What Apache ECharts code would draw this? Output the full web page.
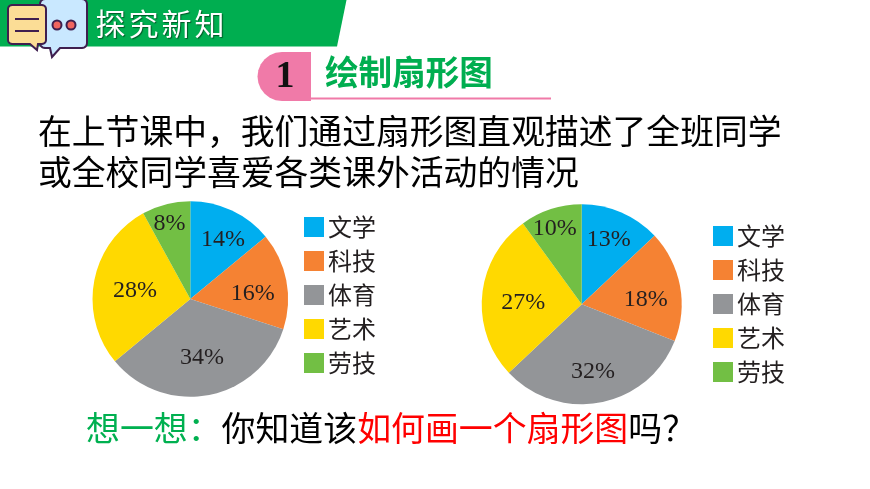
<!DOCTYPE html>
<html><head><meta charset="utf-8">
<style>html,body{margin:0;padding:0;background:#fff}#c{width:870px;height:489px}</style>
<script src="https://cdn.jsdelivr.net/npm/echarts@6/dist/echarts.min.js"></script>
</head><body><div id="c"></div>
<script>
const categories = ['文学','科技','体育','艺术','劳技'];
const classValues = [14,16,34,28,8];
const schoolValues = [13,18,32,27,10];
const colors = ['#00AEEF','#F58233','#939598','#FFD900','#72BF44'];
const classLabelNudge = [[10.7,-12.4],[11.5,4],[1.9,7.7],[-4.2,1],[-8,-25]];
const schoolLabelNudge = [[6,-16],[12,5],[1.3,15.6],[-5.6,3.7],[-10.5,-25.4]];
const headerTitle = ['探','究','新','知'];
const sectionNumber = '1';
const sectionTitle = '绘制扇形图';
const bodyLines = ['在上节课中，我们通过扇形图直观描述了全班同学','或全校同学喜爱各类课外活动的情况'];
const promptGreen = '想一想：';
const promptBlack1 = '你知道该';
const promptRed = '如何画一个扇形图';
const promptBlack2 = '吗？';

const cjk = '"Noto Sans CJK SC","Noto Sans",sans-serif';
const dark = '#3F1F4F';

function pie(values, center, radius, nudge){
  return {
    type:'pie', center, radius, startAngle:90, clockwise:true, silent:true,
    data: categories.map((name,i)=>({name,value:values[i],itemStyle:{color:colors[i]}})),
    itemStyle:{borderWidth:0},
    label:{show:true,position:'inside',formatter:p=>p.value+'%',fontFamily:'"Liberation Serif",serif',fontSize:24,color:'#231F20'},
    labelLine:{show:false},
    labelLayout:p=>({dx:nudge[p.dataIndex][0],dy:nudge[p.dataIndex][1]})
  };
}
function legend(left,top,seriesIndex){
  return {
    orient:'vertical',left,top,seriesIndex,icon:'rect',itemWidth:20,itemHeight:20,itemGap:10,padding:0,
    selectedMode:false,data:categories,
    textStyle:{fontFamily:cjk,fontSize:24,color:'#231F20',padding:[0,0,0,-1]}
  };
}
function arc(cx,cy,r,a0,a1){
  const out=[];
  for(let i=0;i<=6;i++){const a=(a0+(a1-a0)*i/6)*Math.PI/180;out.push([cx+r*Math.cos(a),cy+r*Math.sin(a)]);}
  return out;
}
function bubble(x0,y0,x1,y1,r,tail){
  return [].concat(
    arc(x0+r,y0+r,r,180,270),
    arc(x1-r,y0+r,r,270,360),
    arc(x1-r,y1-r,r,0,90),
    tail,
    arc(x0+r,y1-r,r,90,180)
  );
}
const g = [];
g.push({type:'polygon',shape:{points:[[0,0],[346.5,0],[337,46.5],[0,46.5]]},style:{fill:'#00AE50'}});
g.push({type:'polygon',shape:{points:bubble(40,-1,87,48,5,[[60,48],[52,57],[50,48]])},style:{fill:'#C9E8FF',stroke:dark,lineWidth:2}});
g.push({type:'polygon',shape:{points:bubble(8,5,46,44,4,[[38,44],[37,50],[30,44]])},style:{fill:'#FBDD96',stroke:dark,lineWidth:2}});
[19,31].forEach(y=>g.push({type:'line',shape:{x1:15,y1:y,x2:39,y2:y},style:{stroke:dark,lineWidth:2}}));
[57,71].forEach(x=>g.push({type:'circle',shape:{cx:x,cy:25,r:4.5},style:{fill:'#F0655F',stroke:dark,lineWidth:2}}));
headerTitle.forEach((t,i)=>g.push({type:'text',x:95+i*33+15.5,y:24,style:{text:t,fill:'#fff',fontFamily:cjk,fontSize:30,align:'center',verticalAlign:'middle',textShadowColor:'rgba(0,70,30,.8)',textShadowBlur:1,textShadowOffsetX:1,textShadowOffsetY:1}}));
g.push({type:'polygon',shape:{points:[[311,52]].concat(arc(282,76.5,24.5,-90,-180),arc(282,76.5,24.5,180,90),[[311,101]])},style:{fill:'#F07AA8'}});
g.push({type:'line',shape:{x1:311,y1:98.5,x2:551,y2:98.5},style:{stroke:'#F07AA8',lineWidth:2}});
g.push({type:'text',x:285,y:77,style:{text:sectionNumber,fill:'#111',fontFamily:'"Liberation Serif",serif',fontWeight:'bold',fontSize:38,align:'center',verticalAlign:'middle',textShadowColor:'#9fe',textShadowOffsetX:1,textShadowOffsetY:1,textShadowBlur:0}});
g.push({type:'text',x:325,y:72,style:{text:sectionTitle,fill:'#00AE50',fontFamily:cjk,fontWeight:'bold',fontSize:33.6,align:'left',verticalAlign:'middle'}});
bodyLines.forEach((t,i)=>g.push({type:'text',x:38,y:131+i*41,style:{text:t,fill:'#000',fontFamily:cjk,fontSize:33.8,align:'left',verticalAlign:'middle'}}));
g.push({type:'text',x:86,y:428,style:{
  text:'{g|'+promptGreen+'}{k|'+promptBlack1+'}{r|'+promptRed+'}{k|'+promptBlack2+'}',
  fontFamily:cjk,fontSize:33.9,align:'left',verticalAlign:'middle',
  rich:{g:{fill:'#00B050',fontFamily:cjk,fontSize:33.9},k:{fill:'#000',fontFamily:cjk,fontSize:33.9},r:{fill:'#FF0000',fontFamily:cjk,fontSize:33.9}}
}});

const chart = echarts.init(document.getElementById('c'),null,{renderer:'canvas'});
chart.setOption({
  animation:false,backgroundColor:'#fff',
  legend:[legend(304,215,0),legend(713,224,1)],
  series:[pie(classValues,[190.3,299],97.8,classLabelNudge),pie(schoolValues,[581.7,304.3],100,schoolLabelNudge)],
  graphic:g
});
</script></body></html>
